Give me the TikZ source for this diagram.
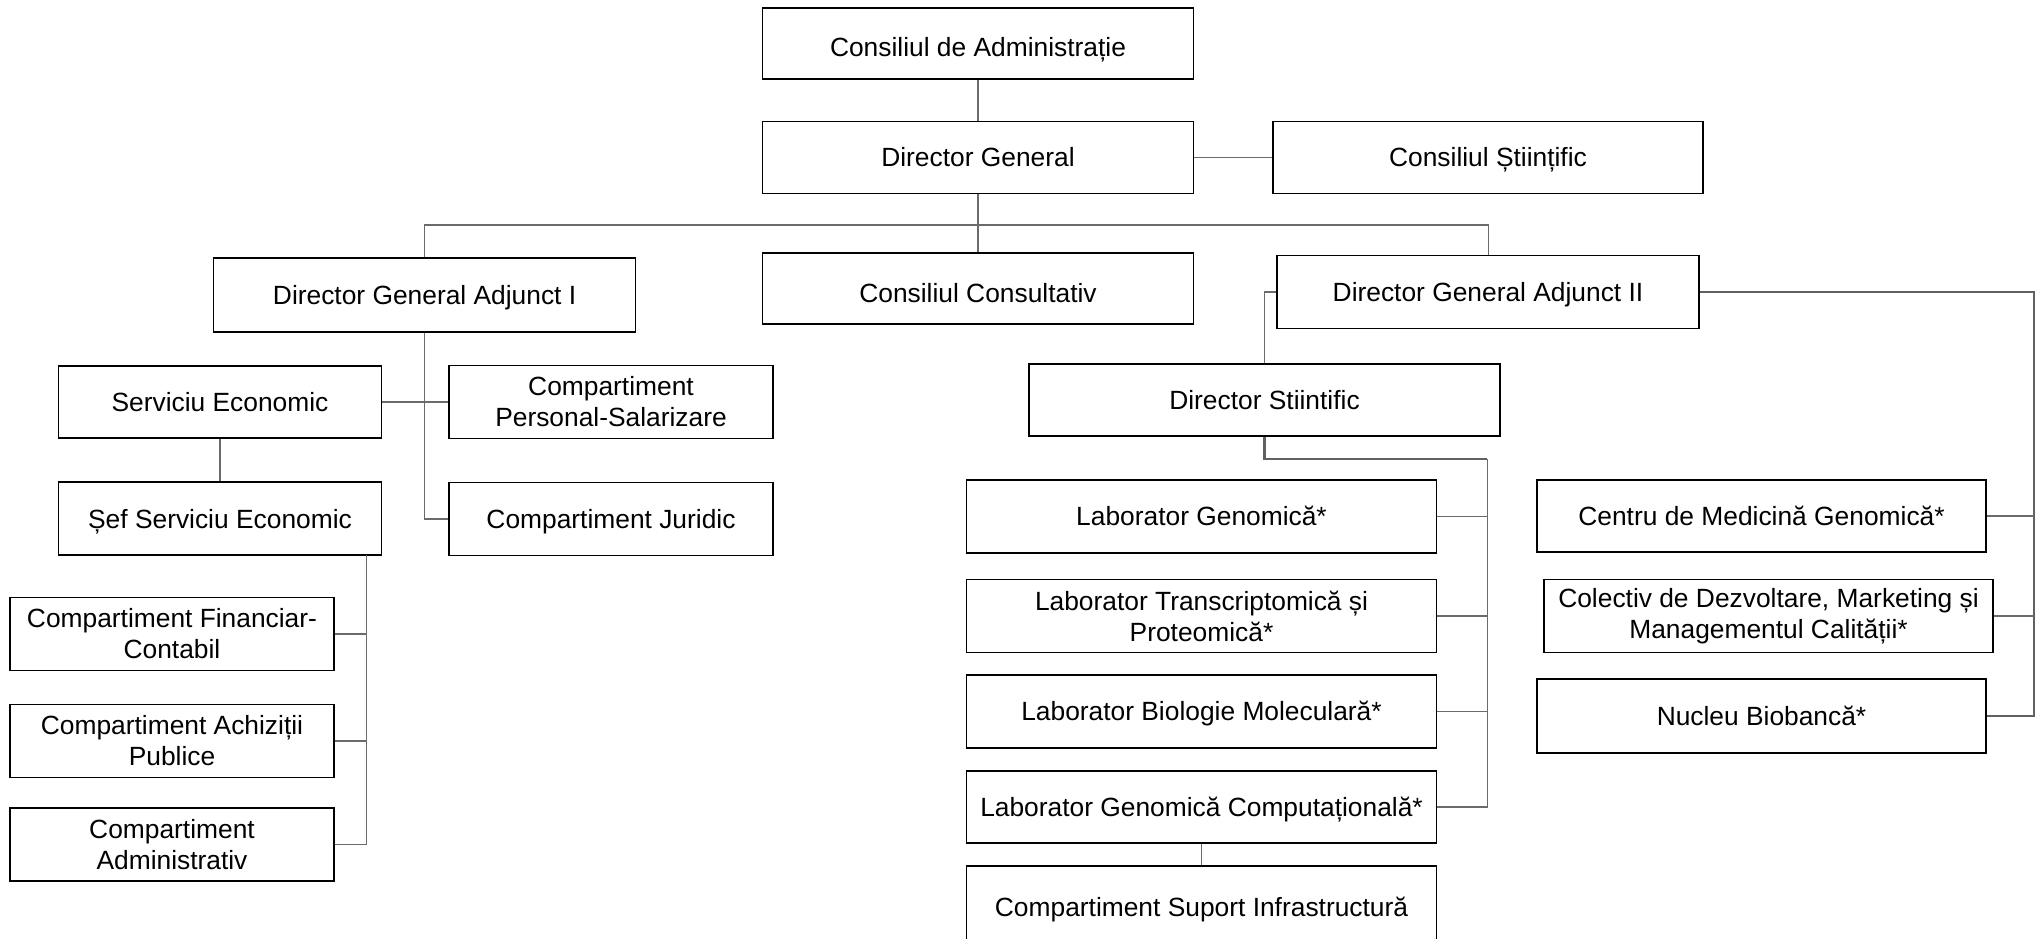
\documentclass[tikz,border=0pt]{standalone}
\usepackage{fontspec}
\setmainfont{Liberation Sans}
\usepackage{tikz}

\begin{document}
\begin{tikzpicture}[-]
            \tikzstyle{box}=[rectangle,draw=black,line width=0.5pt,fill=white,inner sep=0pt,align=center,minimum height=0.73cm,font=\fontsize{7.5}{8.8}\selectfont]
            \tikzstyle{one}=[box,text height=5.4pt,text depth=0pt]
            \tikzstyle{link}=[draw=black!58,line width=0.3pt]
            \tikzstyle{heavy link}=[draw=black!62,line width=0.6pt]
            \useasboundingbox (0,0) rectangle (20.42,-9.38);

                    % top level
                    \node[one,text height=7.6pt,minimum width=4.31cm,minimum height=0.71cm] (C-adm) at (9.78,-0.435){Consiliul de Administrație};
                    \node[one,minimum width=4.31cm,minimum height=0.72cm] (D-gen) at (9.78,-1.575){Director General};
                    \node[one,minimum width=4.30cm,minimum height=0.72cm] (C-st) at (14.88,-1.575){Consiliul Științific};
                    \node[one,minimum width=4.22cm,minimum height=0.74cm] (D-adj1) at (4.246,-2.95){Director General Adjunct I};
                    \node[one,text height=7.6pt,minimum width=4.31cm,minimum height=0.71cm] (C-cons) at (9.78,-2.887){Consiliul Consultativ};
                    \node[one,minimum width=4.22cm] (D-adj2) at (14.88,-2.92){Director General Adjunct II};
                    % branch I
                    \node[one,minimum width=3.23cm,minimum height=0.72cm] (S-ec) at (2.20,-4.02){Serviciu Economic};
                    \node[box,minimum width=3.24cm] (C-pers) at (6.11,-4.02){Compartiment\\Personal-Salarizare};
                    \node[one,minimum width=3.23cm] (S-sef) at (2.20,-5.187){Șef Serviciu Economic};
                    \node[one,minimum width=3.24cm] (C-jur) at (6.11,-5.19){Compartiment Juridic};
                    \node[box,minimum width=3.24cm] (C-fin) at (1.72,-6.34){Compartiment Financiar-\\Contabil};
                    \node[box,minimum width=3.24cm] (C-ach) at (1.72,-7.41){Compartiment Achiziții\\Publice};
                    \node[box,minimum width=3.24cm] (C-adm2) at (1.72,-8.447){Compartiment\\Administrativ};
                    % branch II
                    \node[one,minimum width=4.71cm,minimum height=0.72cm] (D-st) at (12.645,-4.00){Director Stiintific};
                    \node[one,minimum width=4.70cm] (L-gen) at (12.015,-5.165){Laborator Genomică*};
                    \node[box,minimum width=4.70cm] (L-tra) at (12.015,-6.16){Laborator Transcriptomică și\\Proteomică*};
                    \node[one,minimum width=4.70cm] (L-bio) at (12.015,-7.113){Laborator Biologie Moleculară*};
                    \node[one,minimum width=4.70cm,minimum height=0.72cm] (L-comp) at (12.015,-8.07){Laborator Genomică Computațională*};
                    \node[one,minimum width=4.70cm,minimum height=0.82cm] (C-sup) at (12.015,-9.07){Compartiment Suport Infrastructură};
                    \node[one,minimum width=4.49cm,minimum height=0.72cm] (C-med) at (17.615,-5.16){Centru de Medicină Genomică*};
                    \node[box,minimum width=4.49cm] (C-col) at (17.685,-6.16){Colectiv de Dezvoltare, Marketing și\\Managementul Calității*};
                    \node[one,minimum width=4.49cm,minimum height=0.74cm] (N-bio) at (17.615,-7.16){Nucleu Biobancă*};

                    \coordinate (G-bus) at (9.78,-2.25);
                    \coordinate (E-bus) at (3.666,-5.552);
                    \coordinate (L-bus) at (14.87,-4.59);
                    \coordinate (R-bus) at (20.34,-2.92);

                \foreach \from/\to in {C-adm/D-gen, D-gen/C-st, D-gen/C-cons, S-ec/C-pers, S-ec/S-sef, L-comp/C-sup}
                    \draw[link] (\from) -- (\to);
                \draw[link] (D-adj1.north) |- (G-bus) -| (D-adj2.north);
                \draw[link] (D-adj1.south) |- (C-jur.west);
                \draw[link] (E-bus) |- (C-adm2.east);
                \foreach \n in {C-fin, C-ach}
                    \draw[link] (\n.east) -- (\n.east -| E-bus);
                \draw[link] (D-adj2.west) -| (D-st.north);
                \draw[heavy link] (D-st.south) |- (L-bus);
                \draw[link] (L-bus) |- (L-comp.east);
                \foreach \n in {L-gen, L-tra, L-bio}
                    \draw[link] (\n.east) -- (\n.east -| L-bus);
                \draw[heavy link] (D-adj2.east) -- (R-bus) |- (N-bio.east);
                \foreach \n in {C-med, C-col}
                    \draw[link] (\n.east) -- (\n.east -| R-bus);
        \end{tikzpicture}
\end{document}
